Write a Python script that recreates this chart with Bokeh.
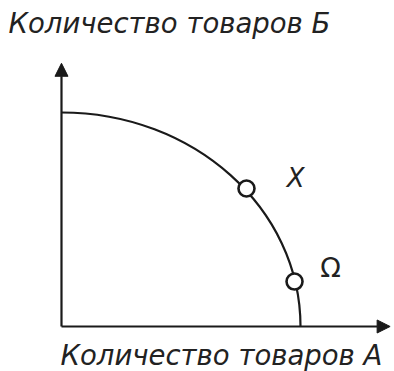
from bokeh.plotting import figure
from bokeh.models import Range1d, Arrow, NormalHead, Label
from bokeh.core.properties import value
from bokeh.embed import file_html
from bokeh.resources import INLINE

# Data (in abstract units of goods)
max_goods_a = 10.0          # frontier intercept on A axis
max_goods_b = 10.0          # frontier intercept on B axis
axis_len_a = 13.75          # drawn length of A axis
axis_len_b = 12.3           # drawn length of B axis
point_names = ["X", "Ω"]
point_a = [7.74, 9.75]
point_b = [6.45, 2.10]
label_a = [9.8, 11.26]
label_b = [6.96, 2.76]
title_b = "Количество товаров Б"
title_a = "Количество товаров А"

W, H = 394, 371
p = figure(width=W, height=H, output_backend="svg", toolbar_location=None,
           x_range=Range1d(-2.552, 13.933), y_range=Range1d(-2.103, 15.234),
           min_border=0, outline_line_color=None)
p.axis.visible = False
p.grid.visible = False

ink = "#1a1a1a"
txt = "#222222"
font = "DejaVu Sans"

# axes with arrows
p.add_layout(Arrow(x_start=0, y_start=0, x_end=axis_len_a, y_end=0,
                   line_width=2.2, line_color=ink,
                   end=NormalHead(size=13, fill_color=ink, line_color=ink)))
p.add_layout(Arrow(x_start=0, y_start=0, x_end=0, y_end=axis_len_b,
                   line_width=2.2, line_color=ink,
                   end=NormalHead(size=13, fill_color=ink, line_color=ink)))

# production possibility frontier: quarter ellipse as a cubic bezier
k = 0.5523
p.bezier(x0=[0], y0=[max_goods_b], x1=[max_goods_a], y1=[0],
         cx0=[k * max_goods_a], cy0=[max_goods_b],
         cx1=[max_goods_a], cy1=[k * max_goods_b],
         line_width=2.2, line_color=ink)

p.scatter(point_a, point_b, size=16, fill_color="white",
          line_color=ink, line_width=2.6)

p.text(x=[label_a[0]], y=[label_b[0]], text=[point_names[0]],
       text_font=value(font), text_font_style="italic",
       text_font_size="26px", text_align="center", text_baseline="middle",
       text_color=txt)
p.text(x=[label_a[1]], y=[label_b[1]], text=[point_names[1]],
       text_font=value(font), text_font_size="27px",
       text_align="center", text_baseline="middle", text_color=txt)

p.add_layout(Label(x=8, y=H - 22, x_units="screen", y_units="screen",
                   text=title_b, text_font=font, text_baseline="alphabetic",
                   text_font_style="italic", text_font_size="27.5px",
                   text_color=txt))
p.add_layout(Label(x=60, y=17, x_units="screen", y_units="screen",
                   text=title_a, text_font=font, text_baseline="alphabetic",
                   text_font_style="italic", text_font_size="27.5px",
                   text_color=txt))

open("out.html", "w").write(file_html(p, INLINE))
